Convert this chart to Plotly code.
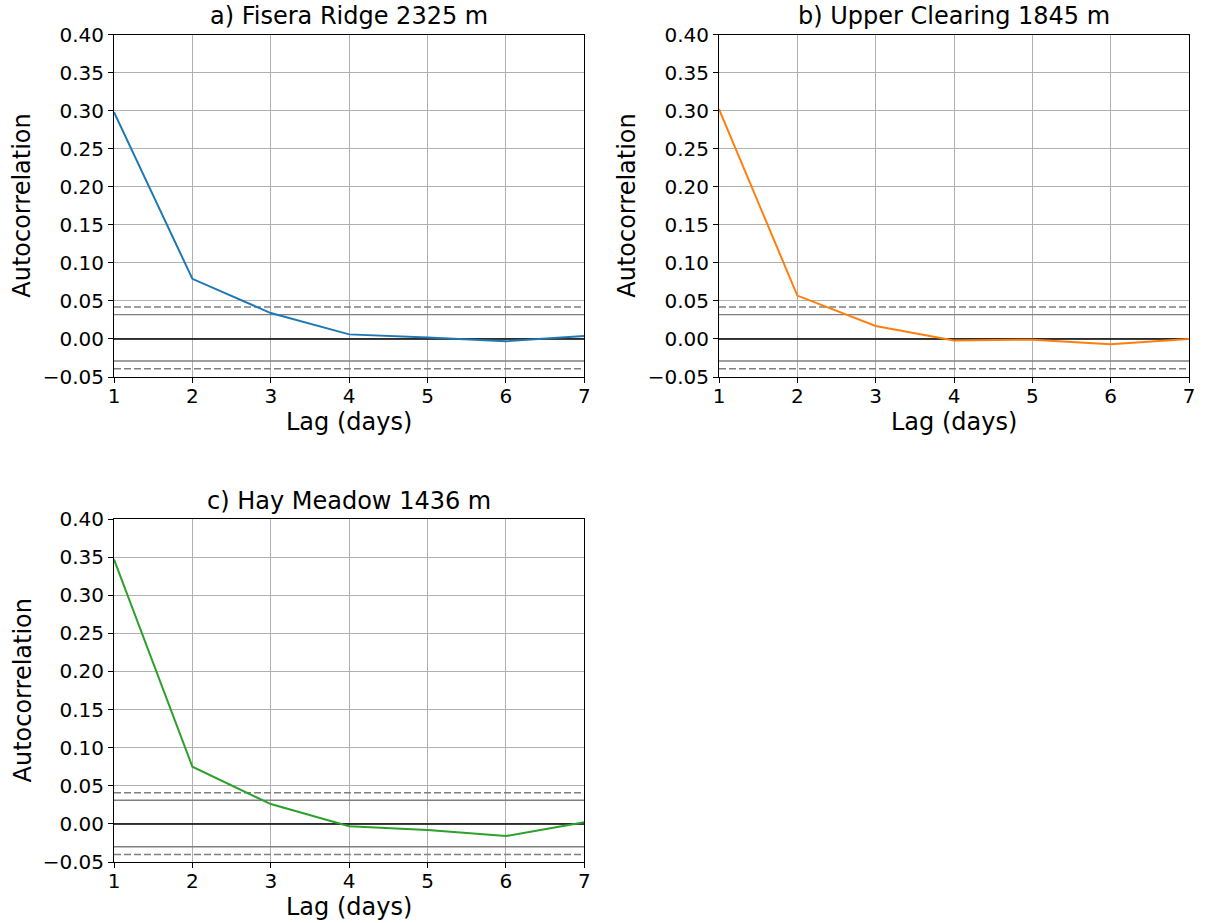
import plotly.graph_objects as go

lags = [1, 2, 3, 4, 5, 6, 7]
titles = ["a) Fisera Ridge 2325 m", "b) Upper Clearing 1845 m", "c) Hay Meadow 1436 m"]
acf_fisera = [0.298, 0.079, 0.034, 0.006, 0.002, -0.003, 0.004]
acf_upper = [0.302, 0.057, 0.017, -0.002, -0.001, -0.007, 0.000]
acf_hay = [0.347, 0.075, 0.026, -0.003, -0.008, -0.016, 0.002]
series = [acf_fisera, acf_upper, acf_hay]
colors = ["#1f77b4", "#ff7f0e", "#2ca02c"]
# confidence bands: upper dashed, upper solid, lower solid, lower dashed
bands_dashed = [[0.042, -0.039], [0.042, -0.039], [0.041, -0.040]]
bands_solid = [[0.032, -0.029], [0.032, -0.029], [0.031, -0.030]]
yticks = [-0.05, 0.0, 0.05, 0.10, 0.15, 0.20, 0.25, 0.30, 0.35, 0.40]

W, H = 1207, 923
boxes = [(114, 584.3, 34.5, 377), (719, 1189, 34.5, 377), (114, 584.3, 519, 862)]
FONT = "DejaVu Sans"

fig = go.Figure()
layout = dict(
    template="none",
    width=W, height=H, margin=dict(l=0, r=0, t=0, b=0, autoexpand=False),
    paper_bgcolor="white", plot_bgcolor="white", showlegend=False,
    font=dict(family=FONT, size=20, color="black"),
)
annotations = []
for i, (ser, col) in enumerate(zip(series, colors)):
    n = "" if i == 0 else str(i + 1)
    xa, ya = "x" + n, "y" + n
    x0, x1, y0, y1 = boxes[i]
    xd = [x0 / W, x1 / W]
    yd = [1 - y1 / H, 1 - y0 / H]
    ax_common = dict(showline=True, linecolor="black", linewidth=1, mirror=True,
                     showgrid=True, gridcolor="#b0b0b0", gridwidth=1, automargin=False,
                     ticks="outside", ticklen=5, tickcolor="black", tickwidth=1,
                     tickfont=dict(family=FONT, size=20, color="black"), zeroline=False)
    layout["xaxis" + n] = dict(domain=xd, anchor=ya, range=[1, 7], tickvals=lags,
                               ticktext=[str(v) for v in lags], ticklabelstandoff=-4,
                               **ax_common)
    layout["yaxis" + n] = dict(domain=yd, anchor=xa, range=[-0.05, 0.40], tickvals=yticks,
                               tickformat=".2f", **ax_common)
    lo, hi = lags[0], lags[-1]
    # zero line
    fig.add_trace(go.Scatter(x=[lo, hi], y=[0, 0], mode="lines", xaxis=xa, yaxis=ya,
                             line=dict(color="black", width=1.5), hoverinfo="skip"))
    for v in bands_solid[i]:
        fig.add_trace(go.Scatter(x=[lo, hi], y=[v, v], mode="lines", xaxis=xa, yaxis=ya,
                                 line=dict(color="#7f7f7f", width=1.3), hoverinfo="skip"))
    for v in bands_dashed[i]:
        fig.add_trace(go.Scatter(x=[lo, hi], y=[v, v], mode="lines", xaxis=xa, yaxis=ya,
                                 line=dict(color="#7f7f7f", width=1.5, dash="7px,3px"),
                                 hoverinfo="skip"))
    fig.add_trace(go.Scatter(x=lags, y=ser, mode="lines", xaxis=xa, yaxis=ya,
                             line=dict(color=col, width=2), cliponaxis=True))
    cx = (x0 + x1) / 2 / W
    annotations.append(dict(text=titles[i], x=cx, y=1 - y0 / H, xref="paper", yref="paper",
                            xanchor="center", yanchor="bottom", yshift=2, showarrow=False,
                            font=dict(family=FONT, size=24, color="black")))
    annotations.append(dict(text="Lag (days)", x=cx, y=1 - (y1 + 45) / H, xref="paper",
                            yref="paper", xanchor="center", yanchor="middle", showarrow=False,
                            font=dict(family=FONT, size=24, color="black")))
    annotations.append(dict(text="Autocorrelation", x=(x0 - 92) / W, y=1 - (y0 + y1) / 2 / H,
                            xref="paper", yref="paper", xanchor="center", yanchor="middle",
                            textangle=-90, showarrow=False,
                            font=dict(family=FONT, size=24, color="black")))

layout["annotations"] = annotations
fig.update_layout(**layout)
fig.write_html("out.html")
